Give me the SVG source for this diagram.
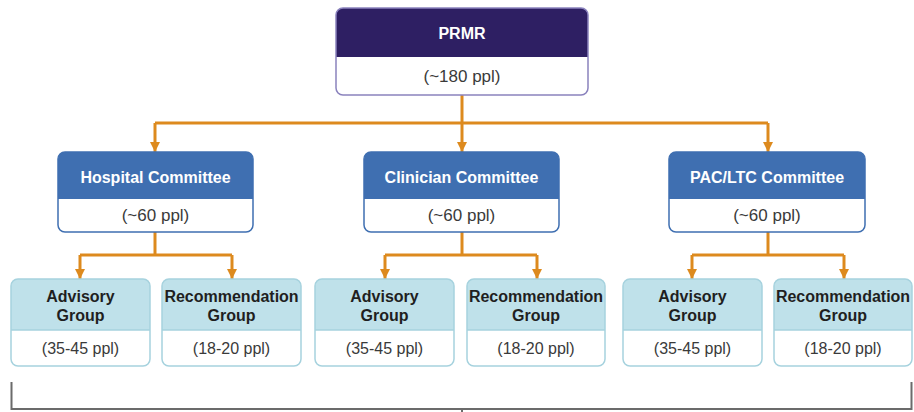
<svg xmlns="http://www.w3.org/2000/svg" width="914" height="412" viewBox="0 0 914 412">
<defs>
<style>
text{font-family:"Liberation Sans",Arial,sans-serif;font-size:16px;text-anchor:middle}
.b{font-weight:bold}
.w{fill:#ffffff}
.d{fill:#1f1f1f}
.g{fill:#3a3a3a}
.l{font-size:17px}
.body{fill:#ffffff}
.top .hd{fill:#2e1f63}
.top .bd{fill:none;stroke:#8a82bd;stroke-width:1.5}
.com .hd{fill:#3f6fb1}
.com .bd{fill:none;stroke:#3f6fb1;stroke-width:1.5}
.grp .hd{fill:#bfe1ea}
.grp .bd{fill:none;stroke:#a6d2de;stroke-width:1.5}
.con{fill:none;stroke:#dd8a1e;stroke-width:3}
.brk{fill:none;stroke:#6b6b6b;stroke-width:2}
</style>
<marker id="ar" viewBox="0 0 10 10" refX="10" refY="5" markerWidth="11" markerHeight="10" markerUnits="userSpaceOnUse" orient="auto">
<path d="M0 0 L10 5 L0 10 Z" fill="#dd8a1e"/>
</marker>
<clipPath id="c0"><rect x="336" y="8" width="252" height="87" rx="7"/></clipPath>
<clipPath id="c1"><rect x="58" y="152" width="195" height="80" rx="7"/></clipPath>
<clipPath id="c2"><rect x="364" y="152" width="195" height="80" rx="7"/></clipPath>
<clipPath id="c3"><rect x="669" y="152" width="196" height="80" rx="7"/></clipPath>
</defs>
<rect width="914" height="412" fill="#ffffff"/>

<g id="connectors">
<path class="con" d="M462 95 V152" marker-end="url(#ar)"/>
<path class="con" d="M155 123 H768"/>
<path class="con" d="M155 123 V152" marker-end="url(#ar)"/>
<path class="con" d="M768 123 V152" marker-end="url(#ar)"/>
<path class="con" d="M155 232 V255"/>
<path class="con" d="M80 255 H232"/>
<path class="con" d="M80 255 V279" marker-end="url(#ar)"/>
<path class="con" d="M232 255 V279" marker-end="url(#ar)"/>
<path class="con" d="M462 232 V255"/>
<path class="con" d="M385 255 H537"/>
<path class="con" d="M385 255 V279" marker-end="url(#ar)"/>
<path class="con" d="M537 255 V279" marker-end="url(#ar)"/>
<path class="con" d="M768 232 V255"/>
<path class="con" d="M692 255 H844"/>
<path class="con" d="M692 255 V279" marker-end="url(#ar)"/>
<path class="con" d="M844 255 V279" marker-end="url(#ar)"/>
</g>

<g id="prmr" class="top">
<g clip-path="url(#c0)">
<rect class="body" x="336" y="8" width="252" height="87"/>
<rect class="hd" x="336" y="8" width="252" height="49"/>
</g>
<rect class="bd" x="336" y="8" width="252" height="87" rx="7"/>
<text class="b w" x="462" y="39">PRMR</text>
<text class="g l" x="462" y="82">(~180 ppl)</text>
</g>

<g id="hospital" class="com">
<g clip-path="url(#c1)">
<rect class="body" x="58" y="152" width="195" height="80"/>
<rect class="hd" x="58" y="152" width="195" height="47"/>
</g>
<rect class="bd" x="58" y="152" width="195" height="80" rx="7"/>
<text class="b w" x="155.5" y="183">Hospital Committee</text>
<text class="g l" x="155.5" y="221">(~60 ppl)</text>
</g>

<g id="clinician" class="com">
<g clip-path="url(#c2)">
<rect class="body" x="364" y="152" width="195" height="80"/>
<rect class="hd" x="364" y="152" width="195" height="47"/>
</g>
<rect class="bd" x="364" y="152" width="195" height="80" rx="7"/>
<text class="b w" x="461.5" y="183">Clinician Committee</text>
<text class="g l" x="461.5" y="221">(~60 ppl)</text>
</g>

<g id="pacltc" class="com">
<g clip-path="url(#c3)">
<rect class="body" x="669" y="152" width="196" height="80"/>
<rect class="hd" x="669" y="152" width="196" height="47"/>
</g>
<rect class="bd" x="669" y="152" width="196" height="80" rx="7"/>
<text class="b w" x="767" y="183">PAC/LTC Committee</text>
<text class="g l" x="767" y="221">(~60 ppl)</text>
</g>

<g id="hosp-advisory" class="grp">
<path class="hd" d="M11 330 V286 Q11 279 18 279 H143 Q150 279 150 286 V330 Z"/>
<rect class="bd" x="11" y="279" width="139" height="87" rx="7"/>
<line class="bd" x1="11" y1="330" x2="150" y2="330"/>
<text class="b d" x="80.5" y="302">Advisory</text>
<text class="b d" x="80.5" y="321">Group</text>
<text class="g" x="80.5" y="354">(35-45 ppl)</text>
</g>

<g id="hosp-recommendation" class="grp">
<path class="hd" d="M162 330 V286 Q162 279 169 279 H294 Q301 279 301 286 V330 Z"/>
<rect class="bd" x="162" y="279" width="139" height="87" rx="7"/>
<line class="bd" x1="162" y1="330" x2="301" y2="330"/>
<text class="b d" x="231.5" y="302">Recommendation</text>
<text class="b d" x="231.5" y="321">Group</text>
<text class="g" x="231.5" y="354">(18-20 ppl)</text>
</g>

<g id="clin-advisory" class="grp">
<path class="hd" d="M315 330 V286 Q315 279 322 279 H447 Q454 279 454 286 V330 Z"/>
<rect class="bd" x="315" y="279" width="139" height="87" rx="7"/>
<line class="bd" x1="315" y1="330" x2="454" y2="330"/>
<text class="b d" x="384.5" y="302">Advisory</text>
<text class="b d" x="384.5" y="321">Group</text>
<text class="g" x="384.5" y="354">(35-45 ppl)</text>
</g>

<g id="clin-recommendation" class="grp">
<path class="hd" d="M467 330 V286 Q467 279 474 279 H598 Q605 279 605 286 V330 Z"/>
<rect class="bd" x="467" y="279" width="138" height="87" rx="7"/>
<line class="bd" x1="467" y1="330" x2="605" y2="330"/>
<text class="b d" x="536" y="302">Recommendation</text>
<text class="b d" x="536" y="321">Group</text>
<text class="g" x="536" y="354">(18-20 ppl)</text>
</g>

<g id="pac-advisory" class="grp">
<path class="hd" d="M623 330 V286 Q623 279 630 279 H755 Q762 279 762 286 V330 Z"/>
<rect class="bd" x="623" y="279" width="139" height="87" rx="7"/>
<line class="bd" x1="623" y1="330" x2="762" y2="330"/>
<text class="b d" x="692.5" y="302">Advisory</text>
<text class="b d" x="692.5" y="321">Group</text>
<text class="g" x="692.5" y="354">(35-45 ppl)</text>
</g>

<g id="pac-recommendation" class="grp">
<path class="hd" d="M774 330 V286 Q774 279 781 279 H905 Q912 279 912 286 V330 Z"/>
<rect class="bd" x="774" y="279" width="138" height="87" rx="7"/>
<line class="bd" x1="774" y1="330" x2="912" y2="330"/>
<text class="b d" x="843" y="302">Recommendation</text>
<text class="b d" x="843" y="321">Group</text>
<text class="g" x="843" y="354">(18-20 ppl)</text>
</g>

<g id="bracket">
<path class="brk" d="M11.5 382 V409 H911.5 V382"/>
<path class="brk" d="M462 409 V412"/>
</g>
</svg>
